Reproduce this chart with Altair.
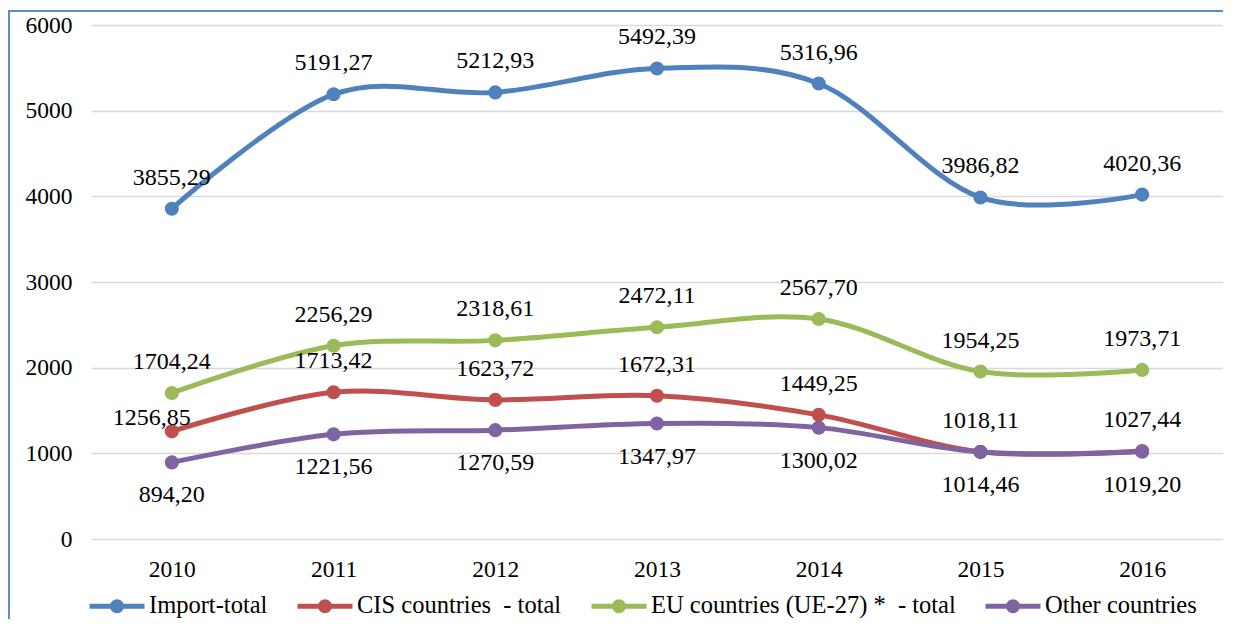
import altair as alt
import pandas as pd

years = ["2010", "2011", "2012", "2013", "2014", "2015", "2016"]
series_names = [
    "Import-total",
    "CIS countries\u00a0 - total",
    "EU countries (UE-27) *\u00a0 - total",
    "Other countries",
]
import_total = [3855.29, 5191.27, 5212.93, 5492.39, 5316.96, 3986.82, 4020.36]
cis_total = [1256.85, 1713.42, 1623.72, 1672.31, 1449.25, 1018.11, 1027.44]
eu_total = [1704.24, 2256.29, 2318.61, 2472.11, 2567.70, 1954.25, 1973.71]
other_total = [894.20, 1221.56, 1270.59, 1347.97, 1300.02, 1014.46, 1019.20]
colors = ["#4F81BD", "#C0504D", "#9BBB59", "#8064A2"]

all_values = [import_total, cis_total, eu_total, other_total]
label_side = ["above", "above", "above", "below"]

rows = []
for si, (name, vals) in enumerate(zip(series_names, all_values)):
    for yi, (yr, v) in enumerate(zip(years, vals)):
        side = label_side[si]
        if si == 1 and yi == 0:
            side = "left"
        rows.append({
            "year": yr,
            "series": name,
            "value": v,
            "label": f"{v:.2f}".replace(".", ","),
            "side": side,
            "order": si,
        })
df = pd.DataFrame(rows)

FONT = "Liberation Serif"

x = alt.X("year:N", sort=years, title=None,
          scale=alt.Scale(type="point", padding=0.5),
          axis=alt.Axis(labelAngle=0, ticks=False, domain=False, grid=False,
                        labelFont=FONT, labelFontSize=23.5, labelColor="black",
                        labelPadding=18))
y = alt.Y("value:Q", title=None,
          scale=alt.Scale(domain=[0, 6000], nice=False),
          axis=alt.Axis(values=[0, 1000, 2000, 3000, 4000, 5000, 6000],
                        format="d",
                        ticks=False, domain=False, grid=True,
                        gridColor="#D9D9D9", gridWidth=1.5,
                        labelFont=FONT, labelFontSize=23.5, labelColor="black",
                        labelPadding=19))

sym = ("M-1,0L1,0"
       "M-0.0909,0A0.0909,0.0909 0 1,1 0.0909,0A0.0909,0.0909 0 1,1 -0.0909,0"
       "M-0.1636,0A0.1636,0.1636 0 1,1 0.1636,0A0.1636,0.1636 0 1,1 -0.1636,0")

color = alt.Color("series:N", sort=series_names,
                  scale=alt.Scale(domain=series_names, range=colors),
                  legend=alt.Legend(title=None, orient="none", direction="horizontal",
                                    legendX=-4, legendY=551,
                                    symbolType=sym, symbolSize=3025,
                                    symbolStrokeWidth=5,
                                    labelFont=FONT, labelFontSize=24.5,
                                    labelColor="black", labelOffset=2,
                                    columnPadding=19, labelLimit=400))

base = alt.Chart(df)

lines = base.mark_line(interpolate="cardinal", strokeWidth=5).encode(
    x=x, y=y, color=color, order="order:Q")
points = base.mark_point(filled=True, size=200, opacity=1).encode(
    x=x, y=y, color=alt.Color("series:N", sort=series_names,
                              scale=alt.Scale(domain=series_names, range=colors),
                              legend=None))

def text_layer(side, dx, dy):
    return base.transform_filter(alt.datum.side == side).mark_text(
        font=FONT, fontSize=24, color="black", dx=dx, dy=dy, baseline="middle"
    ).encode(x=x, y=y, text="label:N")

one = alt.Data(values=[{"a": 1}])
frame_left = alt.Chart(one).mark_rule(stroke="#5B8CCB", strokeWidth=2).encode(
    x=alt.value(-82), y=alt.value(-14), y2=alt.value(700))
frame_top = alt.Chart(one).mark_rule(stroke="#5B8CCB", strokeWidth=2).encode(
    x=alt.value(-83), x2=alt.value(1160), y=alt.value(-14))

chart = alt.layer(
    frame_left, frame_top, lines, points,
    text_layer("above", 0, -31),
    text_layer("below", 0, 33),
    text_layer("left", -20, -13),
).properties(
    width=1132, height=514,
    padding={"left": 83, "top": 17, "right": 0, "bottom": 80},
    autosize="none",
).configure_view(strokeWidth=0, strokeOpacity=0)

chart.save("out.html", embed_options={"renderer": "svg", "actions": False})
